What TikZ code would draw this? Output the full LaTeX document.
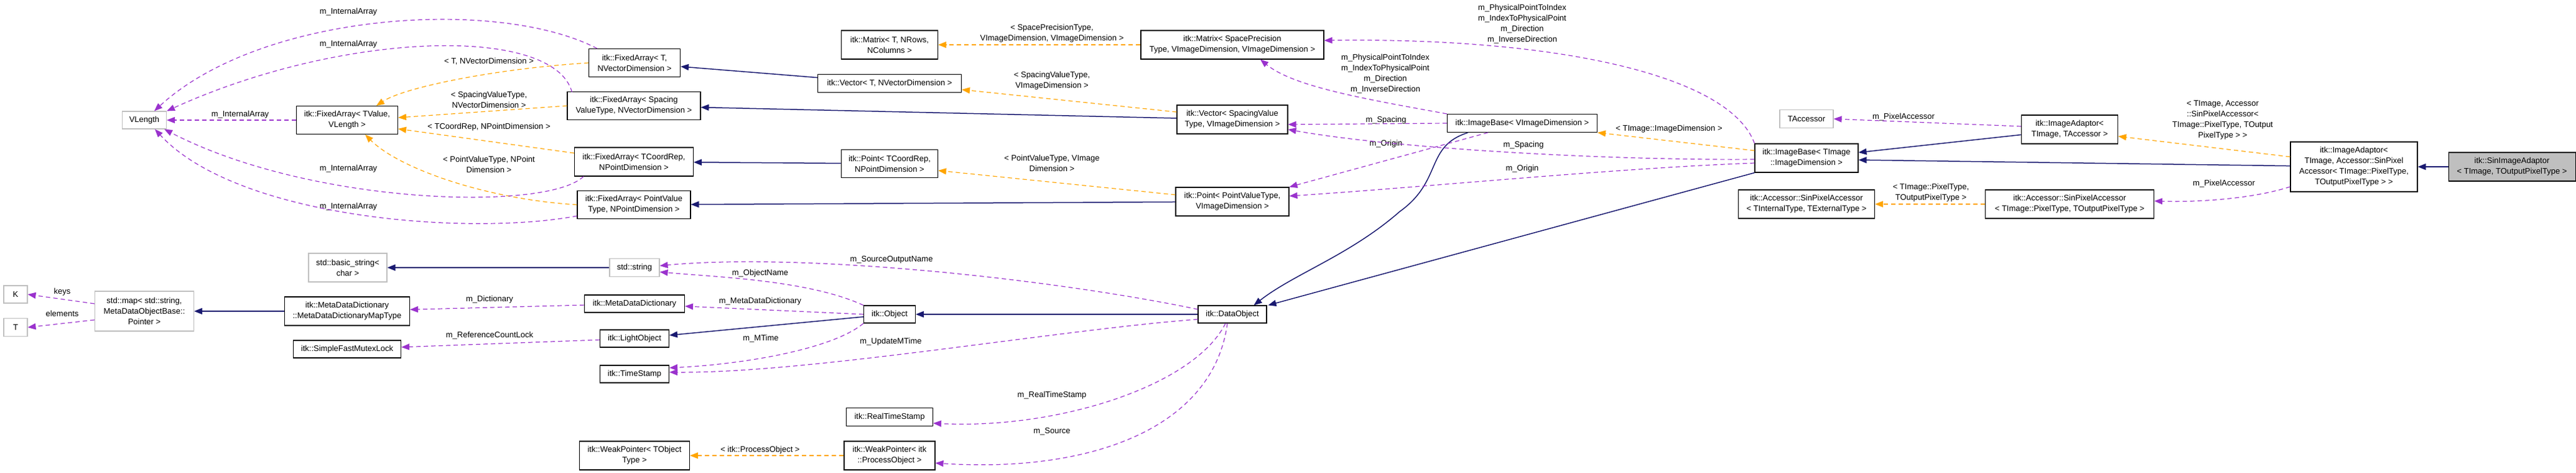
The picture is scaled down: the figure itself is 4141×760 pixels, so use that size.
\documentclass[tikz,border=0pt]{standalone}
\usepackage{fontspec}
\setmainfont{Liberation Sans}
\usetikzlibrary{arrows.meta}
\definecolor{eblue}{HTML}{191970}
\definecolor{epurp}{HTML}{9A32CD}
\definecolor{eorng}{HTML}{FFA500}
\definecolor{gbord}{HTML}{BFBFBF}
\begin{document}
\begin{tikzpicture}[x=1pt,y=-1pt,
  font=\fontsize{13}{17}\selectfont,
  box/.style={draw=black,line width=1.1pt,fill=white,align=center,inner sep=0pt},
  gbox/.style={box,draw=gbord},
  lbl/.style={align=center,inner sep=0pt},
  tip/.style={-{Triangle[length=13pt,width=10pt]}},
  inh/.style={tip,draw=eblue,line width=1.5pt},
  use/.style={tip,draw=epurp,line width=1.2pt,dash pattern=on 7pt off 5pt},
  tpl/.style={tip,draw=eorng,line width=1.2pt,dash pattern=on 7pt off 5pt}]
\useasboundingbox (0,0) rectangle (4141,760);
\newcommand{\bx}[7]{\node[#1,minimum width=#5pt,minimum height=#6pt] (#2) at (#3,#4) {#7};}
% nodes
\bx{gbox}{VLength}{232}{193}{71}{28}{VLength}
\bx{box}{FATV}{558}{193}{163}{45}{itk::FixedArray< TValue,\\VLength >}
\bx{box}{FAT}{1020}{101}{147}{45}{itk::FixedArray< T,\\NVectorDimension >}
\bx{box}{FAS}{1019}{170}{214}{45}{itk::FixedArray< Spacing\\ValueType, NVectorDimension >}
\bx{box}{FAC}{1019}{260}{191}{46}{itk::FixedArray< TCoordRep,\\NPointDimension >}
\bx{box}{FAP}{1019}{329}{182}{45}{itk::FixedArray< PointValue\\Type, NPointDimension >}
\bx{gbox}{K}{25}{473}{38}{28}{K}
\bx{gbox}{T}{25}{526}{38}{29}{T}
\bx{gbox}{Map}{232}{500}{159}{64}{std::map< std::string,\\MetaDataObjectBase::\\Pointer >}
\bx{gbox}{BStr}{559}{430}{126}{46}{std::basic\_string<\\char >}
\bx{gbox}{StdStr}{1020}{430}{80}{29}{std::string}
\bx{box}{MDDMT}{558}{500}{201}{46}{itk::MetaDataDictionary\\::MetaDataDictionaryMapType}
\bx{box}{MDD}{1020}{488}{161}{28}{itk::MetaDataDictionary}
\bx{box}{LO}{1020}{544}{111}{28}{itk::LightObject}
\bx{box}{SFML}{558}{561}{173}{28}{itk::SimpleFastMutexLock}
\bx{box}{TS}{1020}{601}{111}{28}{itk::TimeStamp}
\bx{box}{WPT}{1020}{732}{177}{46}{itk::WeakPointer< TObject\\Type >}
\bx{box}{MatT}{1430}{72}{155}{46}{itk::Matrix< T, NRows,\\NColumns >}
\bx{box}{MatSP}{1981}{72}{294}{46}{itk::Matrix< SpacePrecision\\Type, VImageDimension, VImageDimension >}
\bx{box}{VecT}{1430}{134}{231}{29}{itk::Vector< T, NVectorDimension >}
\bx{box}{VecS}{1981}{192}{178}{46}{itk::Vector< SpacingValue\\Type, VImageDimension >}
\bx{box}{PtC}{1430}{263}{155}{45}{itk::Point< TCoordRep,\\NPointDimension >}
\bx{box}{PtP}{1981}{324}{182}{46}{itk::Point< PointValueType,\\VImageDimension >}
\bx{box}{Obj}{1430}{505}{83}{28}{itk::Object}
\bx{box}{DO}{1981}{505}{110}{28}{itk::DataObject}
\bx{box}{RTS}{1430}{670}{139}{29}{itk::RealTimeStamp}
\bx{box}{WPPO}{1430}{732}{146}{46}{itk::WeakPointer< itk\\::ProcessObject >}
\bx{box}{IBV}{2447}{198}{241}{29}{itk::ImageBase< VImageDimension >}
\bx{box}{IBT}{2904}{254}{166}{46}{itk::ImageBase< TImage\\::ImageDimension >}
\bx{gbox}{TAcc}{2904}{191}{86}{29}{TAccessor}
\bx{box}{SPA1}{2904}{328}{219}{46}{itk::Accessor::SinPixelAccessor\\< TInternalType, TExternalType >}
\bx{box}{IA1}{3327}{208}{155}{46}{itk::ImageAdaptor<\\TImage, TAccessor >}
\bx{box}{IA2}{3784}{268}{204}{80}{itk::ImageAdaptor<\\TImage, Accessor::SinPixel\\Accessor< TImage::PixelType,\\TOutputPixelType > >}
\bx{box,fill=gbord}{Sin}{4038}{268}{204}{46}{itk::SinImageAdaptor\\< TImage, TOutputPixelType >}
\bx{box}{SPA2}{3327}{328}{271}{46}{itk::Accessor::SinPixelAccessor\\< TImage::PixelType, TOutputPixelType >}
% labels
\node[lbl] (l1) at (560,19) {m\_InternalArray};
\node[lbl] (l2) at (560,71) {m\_InternalArray};
\node[lbl] (l3) at (386,184) {m\_InternalArray};
\node[lbl] (l4) at (560,271) {m\_InternalArray};
\node[lbl] (l5) at (560,332) {m\_InternalArray};
\node[lbl] (l6) at (786,99) {< T, NVectorDimension >};
\node[lbl] (l7) at (786,160) {< SpacingValueType,\\NVectorDimension >};
\node[lbl] (l8) at (786,204) {< TCoordRep, NPointDimension >};
\node[lbl] (l9) at (786,264) {< PointValueType, NPoint\\Dimension >};
\node[lbl] (l10) at (100,469) {keys};
\node[lbl] (l11) at (100,504) {elements};
\node[lbl] (l12) at (787,481) {m\_Dictionary};
\node[lbl] (l13) at (787,539) {m\_ReferenceCountLock};
\node[lbl] (l14) at (1691,54) {< SpacePrecisionType,\\VImageDimension, VImageDimension >};
\node[lbl] (l15) at (1691,130) {< SpacingValueType,\\VImageDimension >};
\node[lbl] (l16) at (1691,262) {< PointValueType, VImage\\Dimension >};
\node[lbl] (l17) at (1433,417) {m\_SourceOutputName};
\node[lbl] (l18) at (1222,439) {m\_ObjectName};
\node[lbl] (l19) at (1222,484) {m\_MetaDataDictionary};
\node[lbl] (l20) at (1223,544) {m\_MTime};
\node[lbl] (l21) at (1432,549) {m\_UpdateMTime};
\node[lbl] (l22) at (1691,635) {m\_RealTimeStamp};
\node[lbl] (l23) at (1691,693) {m\_Source};
\node[lbl] (l24) at (1222,723) {< itk::ProcessObject >};
\node[lbl] (l25) at (2447,39) {m\_PhysicalPointToIndex\\m\_IndexToPhysicalPoint\\m\_Direction\\m\_InverseDirection};
\node[lbl] (l26) at (2227,119) {m\_PhysicalPointToIndex\\m\_IndexToPhysicalPoint\\m\_Direction\\m\_InverseDirection};
\node[lbl] (l27) at (2228,193) {m\_Spacing};
\node[lbl] (l28) at (2228,231) {m\_Origin};
\node[lbl] (l29) at (2449,233) {m\_Spacing};
\node[lbl] (l30) at (2447,271) {m\_Origin};
\node[lbl] (l31) at (2683,207) {< TImage::ImageDimension >};
\node[lbl] (l32) at (3060,188) {m\_PixelAccessor};
\node[lbl] (l33) at (3104,310) {< TImage::PixelType,\\TOutputPixelType >};
\node[lbl] (l34) at (3573,193) {< TImage, Accessor\\::SinPixelAccessor<\\TImage::PixelType, TOutput\\PixelType > >};
\node[lbl] (l35) at (3575,295) {m\_PixelAccessor};
% inheritance
\draw[inh] (VecT) -- (FAT);
\draw[inh] (VecS) -- (FAS);
\draw[inh] (PtC) -- (FAC);
\draw[inh] (PtP) -- (FAP);
\draw[inh] (StdStr) -- (BStr);
\draw[inh] (MDDMT) -- (Map);
\draw[inh] (Obj) -- (LO);
\draw[inh] (DO) -- (Obj);
\draw[inh] ([xshift=34]IBV.south west) .. controls (2290,235) and (2320,290) .. (2250,340) .. controls (2170,410) and (2080,440) .. ([xshift=-21]DO.north east);
\draw[inh] (IBT.south west) -- ([xshift=2]DO.north east);
\draw[inh] (IA1) -- ([yshift=9]IBT.east);
\draw[inh] (IA2) -- ([yshift=-3]IBT.east);
\draw[inh] (Sin) -- (IA2);
% templates
\draw[tpl] (FAT.west) .. controls (800,110) and (650,140) .. ([xshift=47]FATV.north);
\draw[tpl] (FAS.west) -- ([yshift=4]FATV.east);
\draw[tpl] ([yshift=14]FAC.west) -- ([yshift=-14]FATV.east);
\draw[tpl] (FAP.west) .. controls (780,320) and (640,270) .. ([xshift=29]FATV.south);
\draw[tpl] (MatSP.west) -- (MatT.east);
\draw[tpl] ([yshift=12]VecS.west) -- ([yshift=-10]VecT.east);
\draw[tpl] ([yshift=11]PtP.west) -- ([yshift=-11]PtC.east);
\draw[tpl] (WPPO) -- (WPT);
\draw[tpl] ([yshift=12]IBT.west) -- (IBV.south east);
\draw[tpl] (SPA2) -- (SPA1);
\draw[tpl] ([yshift=16]IA2.west) -- ([yshift=-11]IA1.east);
% usage
\draw[use] (FATV) -- (VLength);
\draw[use] ([xshift=14]FAT.north west) .. controls (800,-5) and (420,20) .. ([xshift=16]VLength.north);
\draw[use] ([xshift=8,yshift=-1]FAS.north west) .. controls (890,40) and (550,50) .. (VLength.north east);
\draw[use] ([xshift=15]FAC.south west) .. controls (880,340) and (500,330) .. ([xshift=-4]VLength.south east);
\draw[use] ([yshift=-18]FAP.west) .. controls (750,380) and (380,350) .. ([xshift=17]VLength.south);
\draw[use] ([yshift=12]Map.west) -- (K.east);
\draw[use] ([yshift=-14]Map.west) -- (T.east);
\draw[use] (MDD) -- (MDDMT);
\draw[use] (LO) -- (SFML);
\draw[use] (Obj.north west) .. controls (1300,450) and (1150,445) .. ([yshift=-7]StdStr.east);
\draw[use] ([yshift=8]DO.west) .. controls (1700,450) and (1300,405) .. ([yshift=3]StdStr.east);
\draw[use] (Obj.west) -- ([yshift=-4]MDD.east);
\draw[use] (Obj.south west) .. controls (1340,560) and (1200,585) .. ([yshift=10]TS.east);
\draw[use] ([yshift=-8]DO.west) .. controls (1700,530) and (1300,600) .. ([yshift=3]TS.east);
\draw[use] ([xshift=-11]DO.south) .. controls (1920,620) and (1700,690) .. ([yshift=-10]RTS.east);
\draw[use] ([xshift=-8]DO.south) .. controls (1950,690) and (1750,760) .. ([yshift=-12]WPPO.east);
\draw[use] (IBV.north west) .. controls (2200,160) and (2080,140) .. ([xshift=45]MatSP.south);
\draw[use] (IBT.north west) .. controls (2780,120) and (2500,60) .. ([yshift=7]MatSP.east);
\draw[use] (IBV.west) -- ([yshift=-8]VecS.east);
\draw[use] ([yshift=-2]IBT.west) .. controls (2600,258) and (2250,240) .. ([yshift=-16]VecS.east);
\draw[use] ([xshift=66]IBV.south west) -- (PtP.north east);
\draw[use] ([yshift=-8]IBT.west) .. controls (2600,270) and (2300,300) .. ([yshift=9]PtP.east);
\draw[use] ([yshift=5]IA1.west) -- (TAcc.east);
\draw[use] ([yshift=-32]IA2.west) .. controls (3620,320) and (3530,325) .. ([yshift=5]SPA2.east);
\end{tikzpicture}
\end{document}
